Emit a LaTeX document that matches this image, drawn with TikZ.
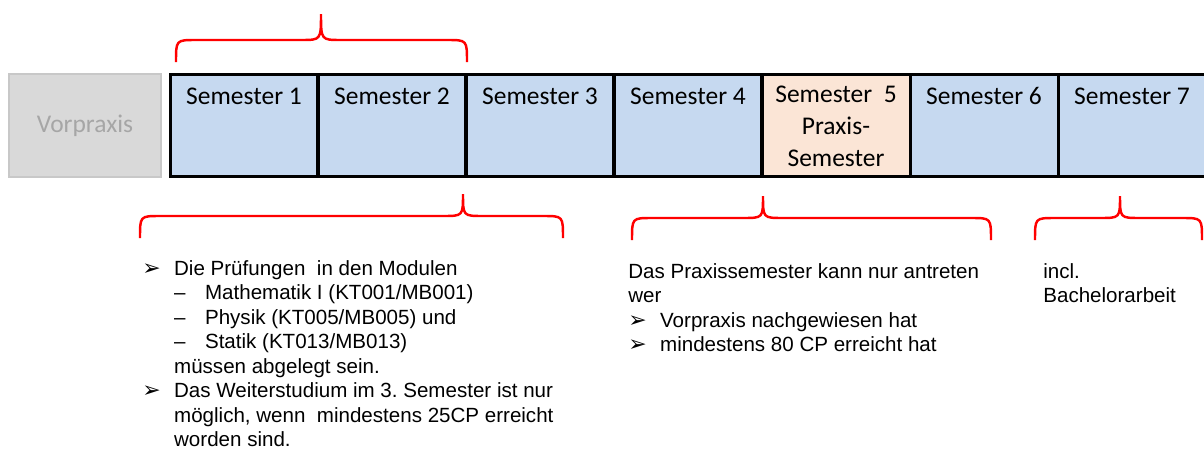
\documentclass[tikz,border=0pt]{standalone}
\usepackage{fontspec}
\setmainfont{Liberation Sans}
\newfontfamily\boxfont{Carlito}
\newfontfamily\symfont{DejaVu Sans}
\usepackage{tikz}
\usetikzlibrary{positioning}
\definecolor{semblue}{RGB}{198,217,240}
\definecolor{praxisrose}{RGB}{251,229,214}
\definecolor{vorgray}{RGB}{217,217,217}
\definecolor{vorline}{RGB}{200,200,200}
\definecolor{vortext}{RGB}{166,166,166}
\newcommand{\pfeil}{\makebox[18.1pt][l]{\symfont\fontsize{12.5}{12.5}\selectfont ➢}}
\newcommand{\strich}{\makebox[17.6pt][l]{–}}
% L, tip, R, y end, y middle, y tip
\newcommand{\klammer}[6]{%
  \draw[klammerlinie] (#1,#4) .. controls (#1,#5) .. (#1+20,#5) -- (#2-20,#5)
    .. controls (#2,#5) .. (#2,#6) .. controls (#2,#5) .. (#2+20,#5)
    -- (#3-20,#5) .. controls (#3,#5) .. (#3,#4);}
\tikzset{semester/.style={rectangle,fill=semblue,draw=black,line width=1.7pt,minimum width=2.96cm,minimum height=2.06cm,inner sep=0mm}}
\tikzset{praxis/.style={semester,fill=praxisrose}}
\tikzset{vorpraxis/.style={rectangle,fill=vorgray,draw=vorline,line width=1.2pt,minimum width=3.04cm,minimum height=2.06cm,inner sep=0mm,text=vortext,font=\boxfont\fontsize{14.5}{17.6}\selectfont}}
\tikzset{semlabel/.style={font=\boxfont\fontsize{14.5}{18.1}\selectfont,inner sep=0mm,align=center}}
\tikzset{infotext/.style={align=left,font=\fontsize{11.7}{13.95}\selectfont,inner sep=0mm}}
\tikzset{klammerlinie/.style={draw=red,line width=1.4pt}}

\begin{document}
\begin{tikzpicture}[x=0.02cm,y=-0.02cm]
    \clip (0,0) rectangle (1204,450);
    \fill[white] (0,0) rectangle (1204,450);

    \node[vorpraxis] (vp) at (85,125.5) {Vorpraxis};
    \node[semester] (s1) at (244,125.5) {};
    \node[semester] (s2) at (392,125.5) {};
    \node[semester] (s3) at (540,125.5) {};
    \node[semester] (s4) at (688,125.5) {};
    \node[praxis]   (s5) at (836,125.5) {};
    \node[semester] (s6) at (984,125.5) {};
    \node[semester] (s7) at (1132,125.5) {};

    \node[semlabel,anchor=base] (l1) at ([yshift=-0.64cm]s1.north) {Semester 1};
    \node[semlabel,anchor=base] (l2) at ([yshift=-0.64cm]s2.north) {Semester 2};
    \node[semlabel,anchor=base] (l3) at ([yshift=-0.64cm]s3.north) {Semester 3};
    \node[semlabel,anchor=base] (l4) at ([yshift=-0.64cm]s4.north) {Semester 4};
    \node[semlabel,anchor=north] (l5) at ([yshift=-0.26cm]s5.north) {Semester\ \ 5\\Praxis-\\Semester};
    \node[semlabel,anchor=base] (l6) at ([yshift=-0.64cm]s6.north) {Semester 6};
    \node[semlabel,anchor=base] (l7) at ([yshift=-0.64cm]s7.north) {Semester 7};

    \klammer{176}{321}{467}{62}{40}{14}
    \klammer{140}{463}{563}{238}{216}{194}
    \klammer{632}{763}{991}{240}{218}{196}
    \klammer{1035}{1120}{1202}{240}{218}{196}

    \node[infotext,anchor=north west] (t1) at (142,260) {%
      \pfeil Die Prüfungen\ \ in den Modulen\\
      \hspace*{18.1pt}\strich Mathematik I (KT001/MB001)\\
      \hspace*{18.1pt}\strich Physik (KT005/MB005) und\\
      \hspace*{18.1pt}\strich Statik (KT013/MB013)\\
      \hspace*{18.1pt}müssen abgelegt sein.\\
      \pfeil Das Weiterstudium im 3.\ Semester ist nur\\
      \hspace*{18.1pt}möglich, wenn\ \ mindestens 25CP erreicht\\
      \hspace*{18.1pt}worden sind.};
    \node[infotext,anchor=north west] (t2) at (628,263) {%
      Das Praxissemester kann nur antreten\\
      wer\\
      \pfeil Vorpraxis nachgewiesen hat\\
      \pfeil mindestens 80 CP erreicht hat};
    \node[infotext,anchor=north west] (t3) at (1043,263) {incl.\\Bachelorarbeit};
\end{tikzpicture}
\end{document}
